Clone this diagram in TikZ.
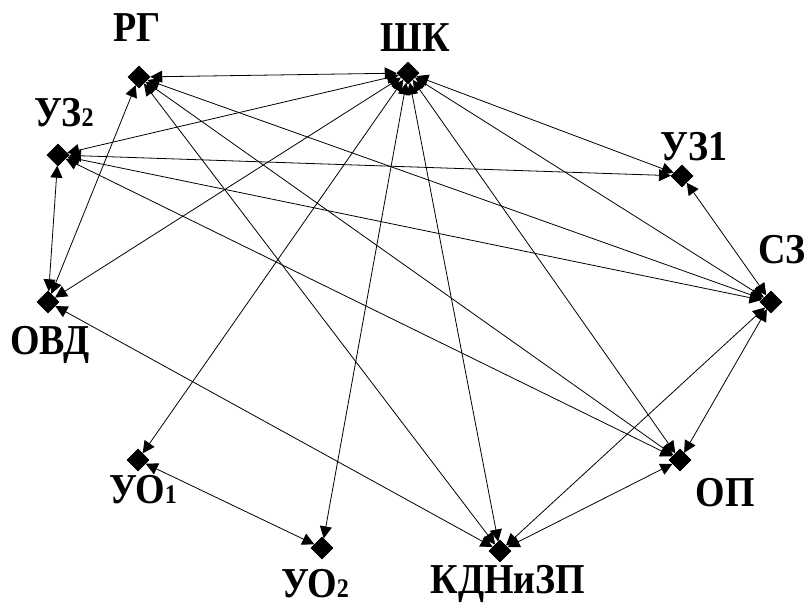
\documentclass[tikz,border=0pt]{standalone}
\usepackage{fontspec}
\setmainfont{Liberation Serif}
\usetikzlibrary{shapes.geometric,arrows.meta}

\newcommand{\smalldigit}[1]{{\fontsize{12}{12}\selectfont #1}}

\begin{document}
\begin{tikzpicture}[x=0.5pt, y=-0.5pt]
    \tikzset{
        actor/.style={diamond, fill=black, draw=black, inner sep=0pt,
            minimum size=11pt},
        actor label/.style={font=\fontsize{19}{20}\selectfont\bfseries,
            inner sep=0pt, yscale=1.12},
        tie/.style={line width=0.4pt,
            {Triangle[length=6pt,width=6pt]}-{Triangle[length=6pt,width=6pt]}},
    }
    \useasboundingbox (0, 0) rectangle (808, 607);
    % actors
    \node[actor] (rg)  at (139, 77)  {};
    \node[actor] (shk) at (408, 73)  {};
    \node[actor] (uzb) at (58, 155)  {};
    \node[actor] (uza) at (682, 176) {};
    \node[actor] (sz)  at (771, 302) {};
    \node[actor] (ovd) at (48, 302)  {};
    \node[actor] (op)  at (680, 460) {};
    \node[actor] (kdn) at (500, 551) {};
    \node[actor] (uoa) at (138, 460) {};
    \node[actor] (uob) at (322, 548) {};
    % labels
    \node[actor label] (rg-l)  at (137, 28)  {РГ};
    \node[actor label] (shk-l) at (415, 38)  {ШК};
    \node[actor label] (uzb-l) at (64, 113)  {УЗ\smalldigit{2}};
    \node[actor label] (uza-l) at (694, 147) {УЗ1};
    \node[actor label] (sz-l)  at (782, 250) {СЗ};
    \node[actor label] (ovd-l) at (50, 345)  {ОВД};
    \node[actor label] (op-l)  at (725, 493) {ОП};
    \node[actor label] (kdn-l) at (508, 584) {КДНиЗП};
    \node[actor label] (uoa-l) at (143, 490) {УО\smalldigit{1}};
    \node[actor label] (uob-l) at (315, 584) {УО\smalldigit{2}};
    % ties
    \foreach \a/\b in {shk/rg, shk/uzb, shk/ovd, shk/uoa, shk/uob, shk/kdn,
        shk/op, shk/sz, shk/uza, rg/sz, rg/op, rg/kdn, rg/ovd, uzb/uza,
        uzb/sz, uzb/op, uzb/ovd, ovd/kdn, uoa/uob, sz/uza, sz/op, sz/kdn,
        op/kdn}
        \draw[tie] (\a) -- (\b);
\end{tikzpicture}
\end{document}
